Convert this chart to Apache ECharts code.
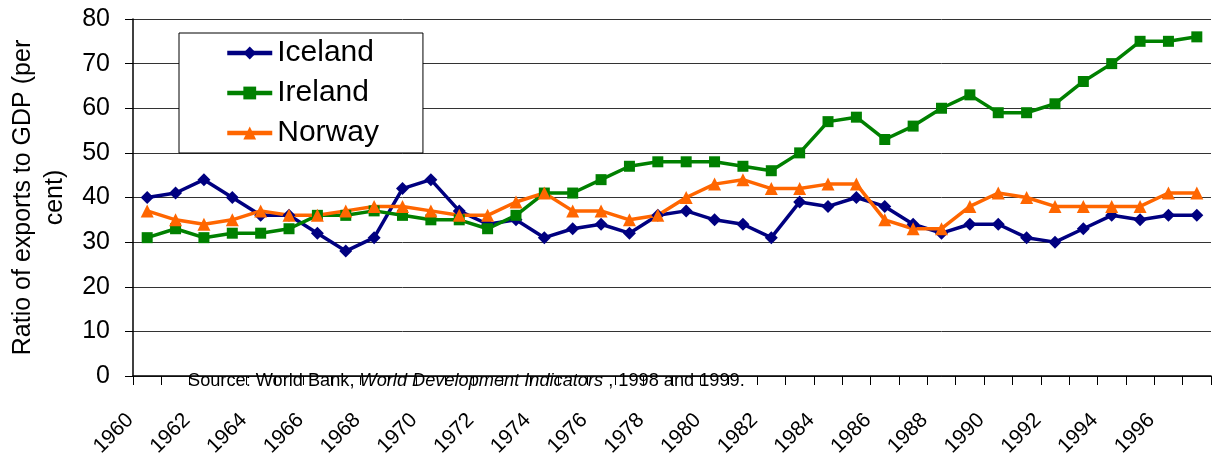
<!DOCTYPE html>
<html>
<head>
<meta charset="utf-8">
<script src="https://cdn.jsdelivr.net/npm/echarts@6/dist/echarts.min.js"></script>
<style>
html, body { margin: 0; padding: 0; background: #fff; }
#main { width: 1212px; height: 459px; }
</style>
</head>
<body>
<div id="main"></div>
<script>
// years on the category axis
var years = ['1960', '1961', '1962', '1963', '1964', '1965', '1966', '1967', '1968', '1969',
    '1970', '1971', '1972', '1973', '1974', '1975', '1976', '1977', '1978', '1979',
    '1980', '1981', '1982', '1983', '1984', '1985', '1986', '1987', '1988', '1989',
    '1990', '1991', '1992', '1993', '1994', '1995', '1996', '1997'];

// exports / GDP, per cent
var iceland = [40, 41, 44, 40, 36, 36, 32, 28, 31, 42,
    44, 37, 34, 35, 31, 33, 34, 32, 36, 37,
    35, 34, 31, 39, 38, 40, 38, 34, 32, 34,
    34, 31, 30, 33, 36, 35, 36, 36];
var ireland = [31, 33, 31, 32, 32, 33, 36, 36, 37, 36,
    35, 35, 33, 36, 41, 41, 44, 47, 48, 48,
    48, 47, 46, 50, 57, 58, 53, 56, 60, 63,
    59, 59, 61, 66, 70, 75, 75, 76];
var norway = [37, 35, 34, 35, 37, 36, 36, 37, 38, 38,
    37, 36, 36, 39, 41, 37, 37, 35, 36, 40,
    43, 44, 42, 42, 43, 43, 35, 33, 33, 38,
    41, 40, 38, 38, 38, 38, 41, 41];

var font = "'Liberation Sans', Arial, sans-serif";

var chart = echarts.init(document.getElementById('main'));

function line(name, data, color, symbol, size) {
    return {
        name: name,
        type: 'line',
        data: data,
        symbol: symbol,
        symbolSize: size,
        showSymbol: true,
        lineStyle: { color: color, width: 3.5 },
        itemStyle: { color: color },
        animation: false
    };
}

chart.setOption({
    backgroundColor: '#fff',
    textStyle: { fontFamily: font },
    grid: { left: 133, right: 1, top: 19, bottom: 83, containLabel: false, outerBoundsMode: 'none' },
    legend: {
        orient: 'vertical',
        left: 179,
        top: 33,
        padding: [5, 44, 5, 46],
        itemGap: 10,
        itemWidth: 45,
        itemHeight: 16,
        backgroundColor: '#fff',
        borderColor: '#000',
        borderWidth: 1,
        lineStyle: { width: 4.5 },
        textStyle: { fontSize: 30, color: '#000', fontFamily: font },
        data: ['Iceland', 'Ireland', 'Norway']
    },
    xAxis: {
        type: 'category',
        data: years,
        boundaryGap: true,
        axisLine: { show: true, onZero: false, lineStyle: { color: '#000', width: 1.5 } },
        axisTick: { show: true, interval: 0, length: 9, lineStyle: { color: '#000' } },
        axisLabel: {
            interval: 1,
            rotate: 45,
            margin: 24,
            padding: [0, 24, 0, 0],
            fontSize: 21,
            color: '#000',
            fontFamily: font
        },
        splitLine: { show: false }
    },
    yAxis: {
        type: 'value',
        min: 0,
        max: 80,
        interval: 10,
        name: 'Ratio of exports to GDP (per\ncent)',
        nameLocation: 'middle',
        nameRotate: 90,
        nameGap: 62,
        nameTextStyle: { fontSize: 25, color: '#000', lineHeight: 32, fontFamily: font },
        axisLine: { show: true, lineStyle: { color: '#000', width: 1.5 } },
        axisTick: { show: true, length: 8, lineStyle: { color: '#000' } },
        axisLabel: { fontSize: 25, color: '#000', margin: 23, fontFamily: font },
        splitLine: { show: true, showMinLine: true, showMaxLine: true, lineStyle: { color: '#333', width: 1 } }
    },
    graphic: [{
        type: 'text',
        x: 188,
        y: 381,
        z: 100,
        style: {
            text: '{n|Source: World Bank, }{i|World Development Indicators}{n| , 1998 and 1999.}',
            verticalAlign: 'middle',
            rich: {
                n: { fontSize: 18.2, fontFamily: font, fill: '#000', color: '#000' },
                i: { fontSize: 18.2, fontFamily: font, fontStyle: 'italic', fill: '#000', color: '#000' }
            }
        }
    }],
    series: [
        line('Iceland', iceland, '#000080', 'diamond', 13),
        line('Ireland', ireland, '#008000', 'rect', 11),
        line('Norway', norway, '#FF6600', 'triangle', 13)
    ]
});
</script>
</body>
</html>
